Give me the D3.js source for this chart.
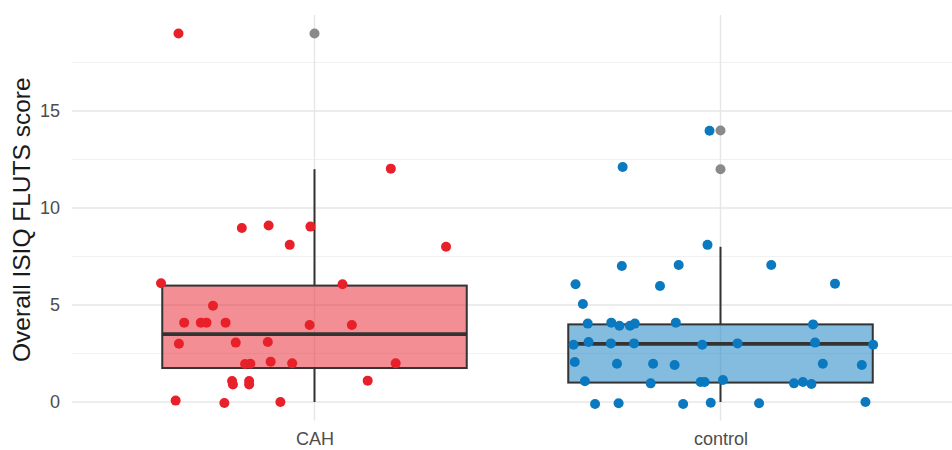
<!DOCTYPE html>
<html><head><meta charset="utf-8">
<script src="https://cdn.jsdelivr.net/npm/d3@7"></script>
<style>body{margin:0;background:#fff}svg{display:block}</style>
</head><body>
<script>
// ---- data ----
const categories = ["CAH", "control"];
const yTicks = [0, 5, 10, 15];
const yMinor = [2.5, 7.5, 12.5, 17.5];
// box statistics: [lowerWhisker, Q1, median, Q3, upperWhisker]
const boxCAH = [0, 1.75, 3.5, 6, 12];
const boxControl = [0, 1, 3, 4, 8];
const outliersCAH = [19];
const outliersControl = [14, 12];
// jittered points: horizontal jitter (category units) and score
const jitterCAH = [-0.335,0.188,0.324,-0.179,-0.113,-0.010,-0.061,-0.378,0.069,-0.250,-0.321,-0.280,-0.266,-0.219,-0.012,0.092,-0.334,-0.194,-0.115,-0.171,-0.158,-0.108,-0.055,0.200,-0.203,-0.201,-0.161,-0.161,0.131,-0.342,-0.222,-0.084];
const scoreCAH  = [19.0,12.03,8.0,8.97,9.1,9.04,8.1,6.12,6.07,4.96,4.09,4.09,4.09,4.09,3.97,3.97,3.0,3.06,3.09,1.96,1.97,2.08,1.99,1.99,1.08,0.9,1.08,0.9,1.1,0.07,-0.05,0.0];
const jitterControl = [-0.027,-0.241,-0.032,-0.243,-0.103,0.125,-0.357,-0.149,0.282,-0.339,
  -0.327,-0.269,-0.249,-0.223,-0.211,-0.110,0.228,
  -0.362,-0.325,-0.270,-0.213,-0.045,0.042,0.233,0.376,
  -0.359,-0.255,-0.166,-0.113,0.252,0.348,
  -0.334,-0.172,-0.049,-0.039,0.006,0.181,0.203,0.224,
  -0.309,-0.251,-0.092,-0.024,0.095,0.357];
const scoreControl = [13.98,12.11,8.1,7.01,7.06,7.06,6.07,5.98,6.1,5.05,
  4.04,4.09,3.93,3.93,4.04,4.09,4.0,
  2.95,3.09,3.02,3.02,2.95,3.02,3.06,2.95,
  2.06,1.97,1.97,1.91,1.97,1.91,
  1.07,0.96,1.03,1.03,1.13,0.96,1.03,0.93,
  -0.1,-0.07,-0.1,-0.04,-0.07,0.0];
const colors = ["#E8202A", "#0A79BF"];
const yTitle = "Overall ISIQ FLUTS score";

// ---- chart ----
const W = 952, H = 450;
const svg = d3.select("body").append("svg").attr("width", W).attr("height", H);
const panel = {left: 72, right: 952, top: 15, bottom: 420.4};
const x = d3.scalePoint().domain(categories).range([314.5, 720.5]);
const step = x("control") - x("CAH");
const y = d3.scaleLinear().domain([-0.95, 19.95]).range([panel.bottom, panel.top]);

// grid
const g = svg.append("g");
g.selectAll(".minor").data(yMinor).join("line")
  .attr("x1", panel.left).attr("x2", panel.right)
  .attr("y1", d => y(d)).attr("y2", d => y(d))
  .attr("stroke", "#f1f1f1").attr("stroke-width", 1);
g.selectAll(".major").data(yTicks).join("line")
  .attr("x1", panel.left).attr("x2", panel.right)
  .attr("y1", d => y(d)).attr("y2", d => y(d))
  .attr("stroke", "#e6e6e6").attr("stroke-width", 1.4);
g.selectAll(".vmajor").data(categories).join("line")
  .attr("x1", d => x(d)).attr("x2", d => x(d))
  .attr("y1", panel.top).attr("y2", panel.bottom)
  .attr("stroke", "#e6e6e6").attr("stroke-width", 1.4);

// y axis labels
const yAxis = d3.axisLeft(y).tickValues(yTicks).tickSize(0).tickPadding(0);
const ya = svg.append("g").attr("transform", `translate(${panel.left - 12},0)`).call(yAxis);
ya.select(".domain").remove();
ya.selectAll("text").attr("font-family", "Liberation Sans, Arial, sans-serif")
  .attr("font-size", 18).attr("fill", "#4d4d4d");

// x axis labels
const xAxis = d3.axisBottom(x).tickSize(0).tickPadding(0);
const xa = svg.append("g").attr("transform", `translate(0,${panel.bottom + 12})`).call(xAxis);
xa.select(".domain").remove();
xa.selectAll("text").attr("font-family", "Liberation Sans, Arial, sans-serif")
  .attr("font-size", 18).attr("fill", "#4d4d4d");

// y title
svg.append("text")
  .attr("transform", `translate(30,${(panel.top + panel.bottom) / 2 + 2}) rotate(-90)`)
  .attr("text-anchor", "middle")
  .attr("font-family", "Liberation Sans, Arial, sans-serif")
  .attr("font-size", 24.5).attr("fill", "#1a1a1a")
  .text(yTitle);

// boxes
const boxes = [
  {cat: "CAH", s: boxCAH, out: outliersCAH, color: colors[0], jit: jitterCAH, val: scoreCAH},
  {cat: "control", s: boxControl, out: outliersControl, color: colors[1], jit: jitterControl, val: scoreControl}
];
const halfW = 0.375 * step;
boxes.forEach(b => {
  const cx = x(b.cat);
  const bg = svg.append("g");
  bg.append("line").attr("x1", cx).attr("x2", cx).attr("y1", y(b.s[4])).attr("y2", y(b.s[3]))
    .attr("stroke", "#333").attr("stroke-width", 2);
  bg.append("line").attr("x1", cx).attr("x2", cx).attr("y1", y(b.s[1])).attr("y2", y(b.s[0]))
    .attr("stroke", "#333").attr("stroke-width", 2);
  bg.append("rect").attr("x", cx - halfW).attr("width", 2 * halfW)
    .attr("y", y(b.s[3])).attr("height", y(b.s[1]) - y(b.s[3]))
    .attr("fill", b.color).attr("fill-opacity", 0.5)
    .attr("stroke", "#333").attr("stroke-width", 2);
  bg.append("line").attr("x1", cx - halfW).attr("x2", cx + halfW)
    .attr("y1", y(b.s[2])).attr("y2", y(b.s[2]))
    .attr("stroke", "#333").attr("stroke-width", 3.8);
  bg.selectAll(".out").data(b.out).join("circle")
    .attr("cx", cx).attr("cy", d => y(d)).attr("r", 5)
    .attr("fill", "#8a8a8a");
});
// jittered points
boxes.forEach(b => {
  const cx = x(b.cat);
  svg.append("g").selectAll("circle").data(b.val.map((v, i) => ({v, j: b.jit[i]})))
    .join("circle")
    .attr("cx", d => cx + d.j * step).attr("cy", d => y(d.v)).attr("r", 5)
    .attr("fill", b.color);
});
</script>
</body></html>
